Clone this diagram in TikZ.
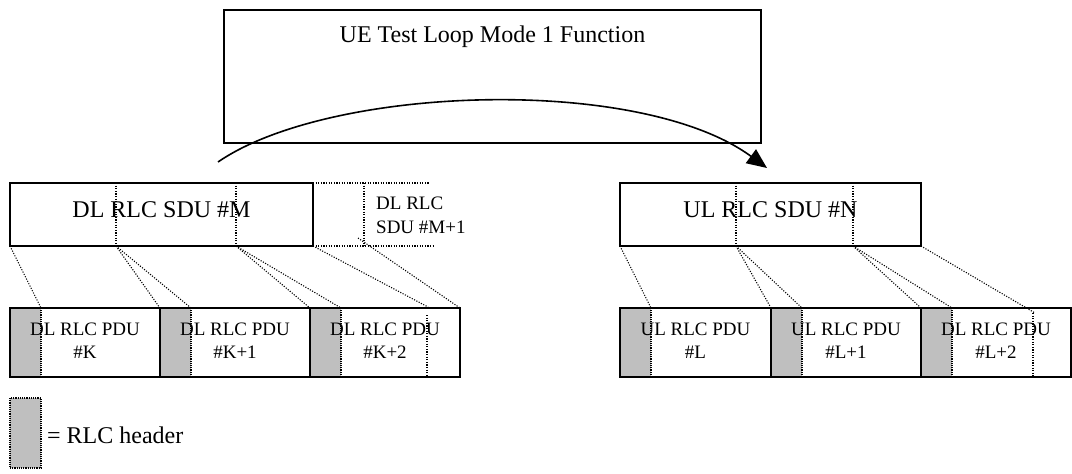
\documentclass[tikz,border=0pt]{standalone}
\usepackage{fontspec}
\setmainfont{Liberation Serif}
\usetikzlibrary{arrows.meta}
\begin{document}
\begin{tikzpicture}[x=1pt,y=-1pt,
  solidbox/.style={draw,line width=1.7pt,inner sep=0pt,outer sep=0pt,anchor=north west},
  hdr/.style={fill=black!25,draw,line width=1.4pt,dash pattern=on 1.2pt off 1pt,inner sep=0pt,outer sep=0pt,anchor=north west,minimum width=31pt},
  dotline/.style={line width=1.1pt,dash pattern=on 1.1pt off 1.5pt},
  bigtxt/.style={font=\fontsize{24}{28}\selectfont,inner sep=0pt},
  smalltxt/.style={font=\fontsize{19}{24}\selectfont,inner sep=0pt},
  pdu/.style={solidbox,minimum width=150pt,minimum height=69pt},
]
\useasboundingbox (0,0) rectangle (1072,474);

% top function box
\node[solidbox,minimum width=537pt,minimum height=133pt] (ue) at (224,10) {};
\node[bigtxt,anchor=base] (uet) at (492.5,42) {UE Test Loop Mode 1 Function};

% loop arrow
\coordinate (cs) at (218,162);
\coordinate (ce) at (767,168);
\draw[line width=1.6pt,-{Triangle[length=20pt,width=17pt]}] (cs) .. controls (330,85) and (640,75) .. (ce);

% DL SDU
\node[solidbox,minimum width=303pt,minimum height=63pt] (dlsdu) at (10,183) {};
\node[bigtxt,anchor=base] (dlsdut) at (161.5,217) {DL RLC SDU \#M};
\coordinate (d1t) at (116,183); \coordinate (d1b) at (116,246);
\coordinate (d2t) at (236,183); \coordinate (d2b) at (236,246);
\draw[dotline] (d1t) -- (d1b);
\draw[dotline] (d2t) -- (d2b);
% next SDU (dotted)
\coordinate (xt) at (430,183); \coordinate (xb) at (433,246);
\coordinate (xvt) at (364,183); \coordinate (xvb) at (364,246);
\draw[dotline] (dlsdu.north east) -- (xt);
\draw[dotline] (dlsdu.south east) -- (xb);
\draw[dotline] (xvt) -- (xvb);
\node[smalltxt,anchor=base west] (nx1) at (376,209) {DL RLC};
\node[smalltxt,anchor=base west] (nx2) at (376,233) {SDU \#M+1};

% UL SDU
\node[solidbox,minimum width=301pt,minimum height=63pt] (ulsdu) at (620,183) {};
\node[bigtxt,anchor=base] (ulsdut) at (770.5,217) {UL RLC SDU \#N};
\coordinate (e1t) at (736,183); \coordinate (e1b) at (736,246);
\coordinate (e2t) at (853,183); \coordinate (e2b) at (853,246);
\draw[dotline] (e1t) -- (e1b);
\draw[dotline] (e2t) -- (e2b);

% DL PDUs
\node[hdr,minimum height=69pt] (h1) at (10,308) {};
\node[hdr,minimum height=69pt] (h2) at (160,308) {};
\node[hdr,minimum height=69pt] (h3) at (310,308) {};
\node[pdu] (p1) at (10,308) {};
\node[pdu] (p2) at (160,308) {};
\node[pdu] (p3) at (310,308) {};
\coordinate (p3dt) at (427,315); \coordinate (p3db) at (427,377);
\draw[dotline] (p3dt) -- (p3db);
\node[smalltxt,anchor=base] (p1a) at (85,335) {DL RLC PDU};
\node[smalltxt,anchor=base] (p1b) at (85,358) {\#K};
\node[smalltxt,anchor=base] (p2a) at (235,335) {DL RLC PDU};
\node[smalltxt,anchor=base] (p2b) at (235,358) {\#K+1};
\node[smalltxt,anchor=base] (p3a) at (385,335) {DL RLC PDU};
\node[smalltxt,anchor=base] (p3b) at (385,358) {\#K+2};

% UL PDUs
\node[hdr,minimum height=69pt] (uh1) at (620,308) {};
\node[hdr,minimum height=69pt] (uh2) at (771,308) {};
\node[hdr,minimum height=69pt] (uh3) at (921,308) {};
\node[pdu,minimum width=151pt] (q1) at (620,308) {};
\node[pdu] (q2) at (771,308) {};
\node[pdu] (q3) at (921,308) {};
\coordinate (q3dt) at (1033,313); \coordinate (q3db) at (1033,377);
\draw[dotline] (q3dt) -- (q3db);
\node[smalltxt,anchor=base] (q1a) at (695.5,335) {UL RLC PDU};
\node[smalltxt,anchor=base] (q1b) at (695.5,358) {\#L};
\node[smalltxt,anchor=base] (q2a) at (846,335) {UL RLC PDU};
\node[smalltxt,anchor=base] (q2b) at (846,358) {\#L+1};
\node[smalltxt,anchor=base] (q3a) at (996,335) {DL RLC PDU};
\node[smalltxt,anchor=base] (q3b) at (996,358) {\#L+2};

% DL segmentation lines
\coordinate (x1) at (428,307);
\coordinate (x2) at (358,238);
\draw[dotline] (dlsdu.south west) -- (h1.north east);
\draw[dotline] (d1b) -- (p1.north east);
\draw[dotline] (d1b) -- (h2.north east);
\draw[dotline] (d2b) -- (p2.north east);
\draw[dotline] (d2b) -- (h3.north east);
\draw[dotline] (dlsdu.south east) -- (x1);
\draw[dotline] (x2) -- (p3.north east);

% UL segmentation lines
\coordinate (y1) at (1035,313);
\draw[dotline] (ulsdu.south west) -- (uh1.north east);
\draw[dotline] (e1b) -- (q1.north east);
\draw[dotline] (e1b) -- (uh2.north east);
\draw[dotline] (e2b) -- (q2.north east);
\draw[dotline] (e2b) -- (uh3.north east);
\draw[dotline] (ulsdu.south east) -- (y1);

% legend
\node[hdr,minimum height=70pt] (lg) at (10,398) {};
\node[bigtxt,anchor=base west] (lgt) at (47,443) {= RLC header};
\end{tikzpicture}
\end{document}
